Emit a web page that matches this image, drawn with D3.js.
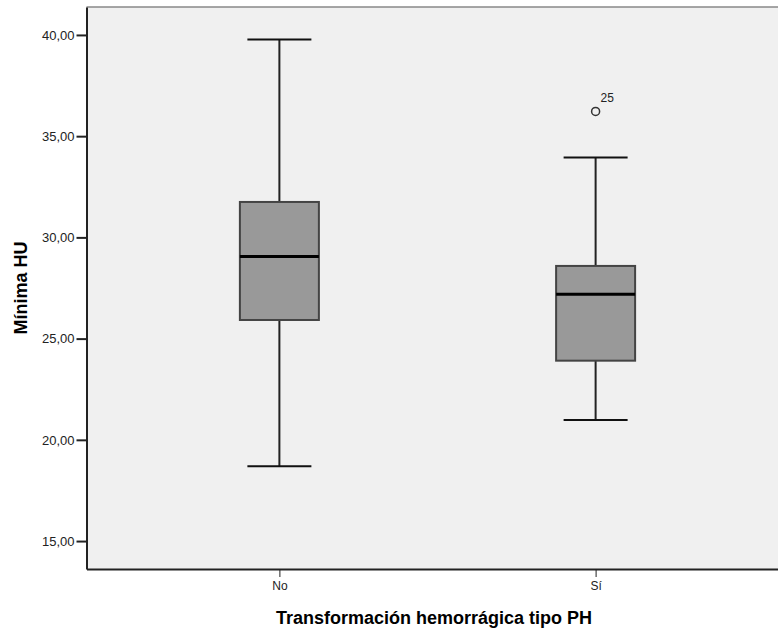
<!DOCTYPE html>
<html>
<head>
<meta charset="utf-8">
<script src="https://cdn.jsdelivr.net/npm/d3@7"></script>
<style>
  body { margin: 0; background: #fff; }
  svg { display: block; font-family: "Liberation Sans", Arial, sans-serif; }
</style>
</head>
<body>
<div id="chart"></div>
<script>
// data
const categories = ["No", "Sí"];
const whiskerLow = [18.70, 20.98];
const q1 = [25.92, 23.91];
const median = [29.05, 27.19];
const q3 = [31.75, 28.59];
const whiskerHigh = [39.78, 33.94];
const outliers = [{cat: "Sí", value: 36.22, label: "25"}];
const yTicks = [15, 20, 25, 30, 35, 40];

const width = 778, height = 630;
const margin = {top: 7, right: -10.5, bottom: 61, left: 86.5};

const svg = d3.select("#chart").append("svg")
    .attr("width", width)
    .attr("height", height);

const x = d3.scalePoint()
    .domain(categories)
    .range([margin.left, width - margin.right])
    .padding(0.61);

const y = d3.scaleLinear()
    .domain([13.62, 41.38])
    .range([height - margin.bottom, margin.top]);

const fmt = d => d.toFixed(2).replace(".", ",");

// plot background
svg.append("rect")
    .attr("x", margin.left)
    .attr("y", margin.top)
    .attr("width", width - margin.right - margin.left)
    .attr("height", height - margin.bottom - margin.top)
    .attr("fill", "#f0f0f0");

svg.append("line")
    .attr("x1", margin.left).attr("x2", width - margin.right)
    .attr("y1", margin.top).attr("y2", margin.top)
    .attr("stroke", "#888").attr("stroke-width", 1.5);

// axes
const yAxis = g => g
    .attr("transform", `translate(${margin.left},0)`)
    .call(d3.axisLeft(y).tickValues(yTicks).tickFormat(fmt).tickSize(10).tickSizeOuter(0))
    .call(g => g.select(".domain").attr("stroke", "#222").attr("stroke-width", 2))
    .call(g => g.selectAll(".tick line").attr("stroke", "#222").attr("stroke-width", 2))
    .call(g => g.selectAll(".tick text").attr("x", -12).attr("font-size", "13px").attr("fill", "#222"))
    .attr("font-family", null);

const xAxis = g => g
    .attr("transform", `translate(0,${height - margin.bottom})`)
    .call(d3.axisBottom(x).tickSize(8).tickSizeOuter(0))
    .call(g => g.select(".domain").attr("stroke", "#222").attr("stroke-width", 2))
    .call(g => g.selectAll(".tick line").attr("stroke", "#222").attr("stroke-width", 1))
    .call(g => g.selectAll(".tick text").attr("y", 12).attr("font-size", "12px").attr("fill", "#222"))
    .attr("font-family", null);

svg.append("g").call(xAxis);
svg.append("g").call(yAxis);

// boxes
const boxHalf = 39.5, capHalf = 32;
const boxes = svg.append("g")
  .selectAll("g")
  .data(categories.map((c, i) => ({c, lo: whiskerLow[i], q1: q1[i], med: median[i], q3: q3[i], hi: whiskerHigh[i]})))
  .join("g");

boxes.append("line")
    .attr("x1", d => x(d.c)).attr("x2", d => x(d.c))
    .attr("y1", d => y(d.hi)).attr("y2", d => y(d.q3))
    .attr("stroke", "#222").attr("stroke-width", 2);
boxes.append("line")
    .attr("x1", d => x(d.c)).attr("x2", d => x(d.c))
    .attr("y1", d => y(d.q1)).attr("y2", d => y(d.lo))
    .attr("stroke", "#222").attr("stroke-width", 2);
boxes.append("line")
    .attr("x1", d => x(d.c) - capHalf).attr("x2", d => x(d.c) + capHalf)
    .attr("y1", d => y(d.hi)).attr("y2", d => y(d.hi))
    .attr("stroke", "#111").attr("stroke-width", 2);
boxes.append("line")
    .attr("x1", d => x(d.c) - capHalf).attr("x2", d => x(d.c) + capHalf)
    .attr("y1", d => y(d.lo)).attr("y2", d => y(d.lo))
    .attr("stroke", "#111").attr("stroke-width", 2);
boxes.append("rect")
    .attr("x", d => x(d.c) - boxHalf)
    .attr("y", d => y(d.q3))
    .attr("width", boxHalf * 2)
    .attr("height", d => y(d.q1) - y(d.q3))
    .attr("fill", "#999999")
    .attr("stroke", "#444").attr("stroke-width", 2);
boxes.append("line")
    .attr("x1", d => x(d.c) - boxHalf).attr("x2", d => x(d.c) + boxHalf)
    .attr("y1", d => y(d.med)).attr("y2", d => y(d.med))
    .attr("stroke", "#000").attr("stroke-width", 3);

// outliers
svg.append("g").selectAll("circle")
  .data(outliers)
  .join("circle")
    .attr("cx", d => x(d.cat))
    .attr("cy", d => y(d.value))
    .attr("r", 4)
    .attr("fill", "none")
    .attr("stroke", "#333").attr("stroke-width", 1.5);

svg.append("g").selectAll("text")
  .data(outliers)
  .join("text")
    .attr("x", d => x(d.cat) + 5)
    .attr("y", d => y(d.value) - 9)
    .attr("font-size", "12px")
    .attr("fill", "#222")
    .text(d => d.label);

// axis titles
svg.append("text")
    .attr("x", 434)
    .attr("y", 624)
    .attr("text-anchor", "middle")
    .attr("font-size", "18px")
    .attr("font-weight", "bold")
    .text("Transformación hemorrágica tipo PH");

svg.append("text")
    .attr("transform", `translate(27,288) rotate(-90)`)
    .attr("text-anchor", "middle")
    .attr("font-size", "18px")
    .attr("font-weight", "bold")
    .text("Mínima HU");
</script>
</body>
</html>
